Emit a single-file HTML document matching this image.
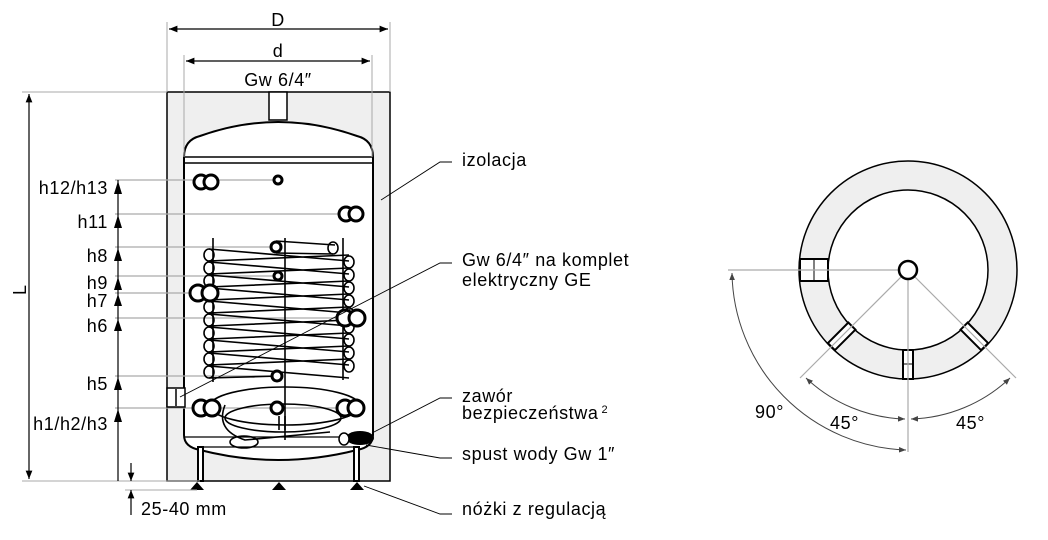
<!DOCTYPE html>
<html><head><meta charset="utf-8"><style>
html,body{margin:0;padding:0;background:#fff;}
svg{display:block;font-family:"Liberation Sans",sans-serif;}
</style></head><body>
<svg width="1048" height="540" viewBox="0 0 1048 540" xmlns="http://www.w3.org/2000/svg">
<defs>
<marker id="a" viewBox="0 0 10 10" refX="10" refY="5" markerWidth="7" markerHeight="7" orient="auto-start-reverse"><path d="M0,1 L10,5 L0,9z" fill="#000"/></marker>
<marker id="g" viewBox="0 0 10 10" refX="10" refY="5" markerWidth="7" markerHeight="7" orient="auto-start-reverse"><path d="M0,1 L10,5 L0,9z" fill="#444"/></marker>
</defs>
<rect x="167" y="92" width="223" height="389" fill="#efefef" stroke="#000" stroke-width="1.5"/>
<rect x="269" y="92" width="18" height="28" fill="#fff" stroke="#000" stroke-width="1.5"/>
<path d="M184 157 Q184 140 200 136 Q278 108 357 136 Q373 140 373 157 L373 435 Q373 447 357 450 Q278 470 200 450 Q184 447 184 435Z" fill="#fff" stroke="#000" stroke-width="2"/>
<line x1="184" y1="157" x2="373" y2="157" stroke="#000" stroke-width="1.5"/>
<line x1="184" y1="163" x2="373" y2="163" stroke="#000" stroke-width="1.5"/>
<line x1="184" y1="437" x2="373" y2="437" stroke="#000" stroke-width="1.2"/>
<line x1="200" y1="447" x2="357" y2="447" stroke="#000" stroke-width="1.2"/>
<rect x="198" y="447" width="5" height="34" fill="#fff" stroke="#000" stroke-width="2"/>
<rect x="354" y="447" width="5" height="34" fill="#fff" stroke="#000" stroke-width="2"/>
<path d="M190 490 L197 482 L204 490Z M272 490 L279 482 L286 490Z M350 490 L357 482 L364 490Z" fill="#000"/>
<g stroke="#aaa" stroke-width="1">
<line x1="167" y1="22" x2="167" y2="92"/><line x1="390" y1="22" x2="390" y2="92"/>
<line x1="184" y1="55" x2="184" y2="157"/><line x1="372" y1="55" x2="372" y2="157"/>
<line x1="22" y1="92" x2="167" y2="92"/><line x1="22" y1="481" x2="200" y2="481"/>
<line x1="125" y1="490" x2="197" y2="490"/>
</g>
<line x1="169" y1="29" x2="388" y2="29" stroke="#000" stroke-width="1.2" marker-start="url(#a)" marker-end="url(#a)"/>
<line x1="186" y1="61" x2="370" y2="61" stroke="#000" stroke-width="1.2" marker-start="url(#a)" marker-end="url(#a)"/>
<g font-size="18" letter-spacing="0.6">
<text x="278" y="26" text-anchor="middle">D</text>
<text x="278" y="57" text-anchor="middle">d</text>
<text x="278" y="86" text-anchor="middle">Gw 6/4″</text>
</g>
<line x1="29" y1="94" x2="29" y2="479" stroke="#000" stroke-width="1.2" marker-start="url(#a)" marker-end="url(#a)"/>
<text x="0" y="0" font-size="18" transform="translate(26,290) rotate(-90)" text-anchor="middle">L</text>
<g stroke="#aaa" stroke-width="1.3">
<line x1="115" y1="180" x2="278" y2="180"/>
<line x1="115" y1="214" x2="350" y2="214"/>
<line x1="115" y1="247" x2="276" y2="247"/>
<line x1="115" y1="276" x2="278" y2="276"/>
<line x1="115" y1="293" x2="205" y2="293"/>
<line x1="115" y1="318" x2="355" y2="318"/>
<line x1="115" y1="376" x2="277" y2="376"/>
<line x1="115" y1="408" x2="358" y2="408"/>
</g>
<line x1="118" y1="180" x2="118" y2="481" stroke="#000" stroke-width="1.2"/>
<path fill="#000" d="M114 194 L118 181 L122 194Z M114 228 L118 215 L122 228Z M114 261 L118 248 L122 261Z M114 290 L118 277 L122 290Z M114 306 L118 294 L122 306Z M114 331 L118 319 L122 331Z M114 390 L118 377 L122 390Z M114 422 L118 409 L122 422Z"/>
<g font-size="18" letter-spacing="0.6" text-anchor="end">
<text x="108" y="194">h12/h13</text>
<text x="108" y="228">h11</text>
<text x="108" y="262">h8</text>
<text x="108" y="289">h9</text>
<text x="108" y="307">h7</text>
<text x="108" y="332">h6</text>
<text x="108" y="390">h5</text>
<text x="108" y="430">h1/h2/h3</text>
</g>
<line x1="131" y1="463" x2="131" y2="481" stroke="#000" stroke-width="1.2" marker-end="url(#a)"/>
<line x1="131" y1="515" x2="131" y2="490" stroke="#000" stroke-width="1.2" marker-end="url(#a)"/>
<text x="141" y="515" font-size="18" letter-spacing="0.6">25-40 mm</text>
<g stroke="#000" stroke-width="1.6" fill="none">
<line x1="213" y1="238" x2="213" y2="382"/>
<line x1="285" y1="238" x2="285" y2="440"/>
<line x1="343" y1="238" x2="343" y2="380"/>
<path d="M276 241 L335 245"/><ellipse cx="333" cy="248" rx="5" ry="6"/><path d="M276 253 L333 254"/>
<ellipse cx="209" cy="255" rx="5" ry="6"/><path d="M209 249 L349 261 M209 261 L349 255"/><ellipse cx="349" cy="262" rx="5" ry="6"/>
<ellipse cx="209" cy="268" rx="5" ry="6"/><path d="M209 262 L349 274 M209 274 L349 268"/><ellipse cx="349" cy="275" rx="5" ry="6"/>
<ellipse cx="209" cy="281" rx="5" ry="6"/><path d="M209 275 L349 287 M209 287 L349 281"/><ellipse cx="349" cy="288" rx="5" ry="6"/>
<ellipse cx="209" cy="294" rx="5" ry="6"/><path d="M209 288 L349 300 M209 300 L349 294"/><ellipse cx="349" cy="301" rx="5" ry="6"/>
<ellipse cx="209" cy="307" rx="5" ry="6"/><path d="M209 301 L349 313 M209 313 L349 307"/><ellipse cx="349" cy="314" rx="5" ry="6"/>
<ellipse cx="209" cy="320" rx="5" ry="6"/><path d="M209 314 L349 326 M209 326 L349 320"/><ellipse cx="349" cy="327" rx="5" ry="6"/>
<ellipse cx="209" cy="333" rx="5" ry="6"/><path d="M209 327 L349 339 M209 339 L349 333"/><ellipse cx="349" cy="340" rx="5" ry="6"/>
<ellipse cx="209" cy="346" rx="5" ry="6"/><path d="M209 340 L349 352 M209 352 L349 346"/><ellipse cx="349" cy="353" rx="5" ry="6"/>
<ellipse cx="209" cy="359" rx="5" ry="6"/><path d="M209 353 L349 365 M209 365 L349 359"/><ellipse cx="349" cy="366" rx="5" ry="6"/>
<ellipse cx="209" cy="372" rx="5" ry="6"/><path d="M209 366 L349 378 M209 378 L280 376"/>
<ellipse cx="285" cy="406" rx="75" ry="19"/>
<ellipse cx="283" cy="418" rx="58" ry="14"/>
<path d="M225 405 Q215 430 245 440 L330 432"/>
<ellipse cx="244" cy="442" rx="14" ry="6"/>
<line x1="279" y1="416" x2="279" y2="430"/><line x1="285" y1="416" x2="285" y2="430"/>
</g>
<g stroke="#000" stroke-width="3" fill="#fff">
<circle cx="201" cy="182" r="7"/><circle cx="211" cy="182" r="7"/>
<circle cx="346" cy="214" r="7"/><circle cx="356" cy="214" r="7"/>
<circle cx="198" cy="293" r="8"/><circle cx="210" cy="293" r="8"/>
<circle cx="345" cy="318" r="8"/><circle cx="357" cy="318" r="8"/>
<circle cx="201" cy="408" r="8"/><circle cx="212" cy="408" r="8"/>
<circle cx="345" cy="408" r="8"/><circle cx="356" cy="408" r="8"/>
<circle cx="278" cy="180" r="4"/><circle cx="276" cy="247" r="5"/>
<circle cx="278" cy="276" r="4"/><circle cx="277" cy="376" r="5"/><circle cx="277" cy="408" r="6"/>
</g>
<rect x="167" y="388" width="18" height="19" fill="#fff" stroke="#000" stroke-width="1.5"/>
<line x1="176" y1="389" x2="176" y2="406" stroke="#000" stroke-width="1.5"/>
<ellipse cx="360" cy="438" rx="14" ry="7" fill="#000"/>
<ellipse cx="344" cy="439" rx="5" ry="6" fill="#fff" stroke="#000" stroke-width="1.5"/>
<g stroke="#000" stroke-width="0.9" fill="none">
<path d="M381 200 L440 162 L452 162"/>
<path d="M180 397 L440 263 L452 263"/>
<path d="M372 433 L440 398 L452 398"/>
<path d="M366 445 L440 458 L452 458"/>
<path d="M364 486 L440 514 L452 514"/>
</g>
<g font-size="18" letter-spacing="0.6">
<text x="462" y="166">izolacja</text>
<text x="462" y="266">Gw 6/4″ na komplet</text>
<text x="462" y="286">elektryczny GE</text>
<text x="462" y="402">zawór</text>
<text x="462" y="419">bezpieczeństwa<tspan font-size="11" dy="-6" dx="3">2</tspan></text>
<text x="462" y="460" dy="0">spust wody Gw 1″</text>
<text x="462" y="515">nóżki z regulacją</text>
</g>
<circle cx="908" cy="270" r="94.5" fill="none" stroke="#efefef" stroke-width="29"/>
<circle cx="908" cy="270" r="109" fill="none" stroke="#000" stroke-width="1.5"/>
<circle cx="908" cy="270" r="80" fill="none" stroke="#000" stroke-width="1.5"/>
<g stroke="#000" stroke-width="2" fill="#fff">
<rect x="800" y="259" width="28" height="22"/>
<rect x="903" y="350" width="10" height="29"/>
<rect x="-5" y="-14" width="10" height="29" transform="translate(842,336) rotate(45)"/>
<rect x="-5" y="-14" width="10" height="29" transform="translate(974,336) rotate(-45)"/>
</g>
<g stroke="#000" stroke-width="1"><line x1="814" y1="259" x2="814" y2="281"/><line x1="903" y1="364" x2="913" y2="364"/></g>
<g stroke="#aaa" stroke-width="1.2">
<line x1="728" y1="270" x2="908" y2="270"/>
<line x1="908" y1="270" x2="800" y2="378"/>
<line x1="908" y1="270" x2="1016" y2="378"/>
<line x1="908" y1="270" x2="908" y2="452"/>
</g>
<circle cx="908" cy="270" r="9" fill="#fff" stroke="#000" stroke-width="2.5"/>
<g stroke="#444" stroke-width="1" fill="none">
<path d="M732 273 A180 180 0 0 0 906 450" marker-start="url(#g)" marker-end="url(#g)"/>
<path d="M806 378 A150 150 0 0 0 905 419" marker-start="url(#g)" marker-end="url(#g)"/>
<path d="M1010 378 A150 150 0 0 1 911 419" marker-start="url(#g)" marker-end="url(#g)"/>
</g>
<g font-size="18" letter-spacing="0.6">
<text x="755" y="418">90°</text>
<text x="830" y="429">45°</text>
<text x="956" y="429">45°</text>
</g>
</svg>
</body></html>
